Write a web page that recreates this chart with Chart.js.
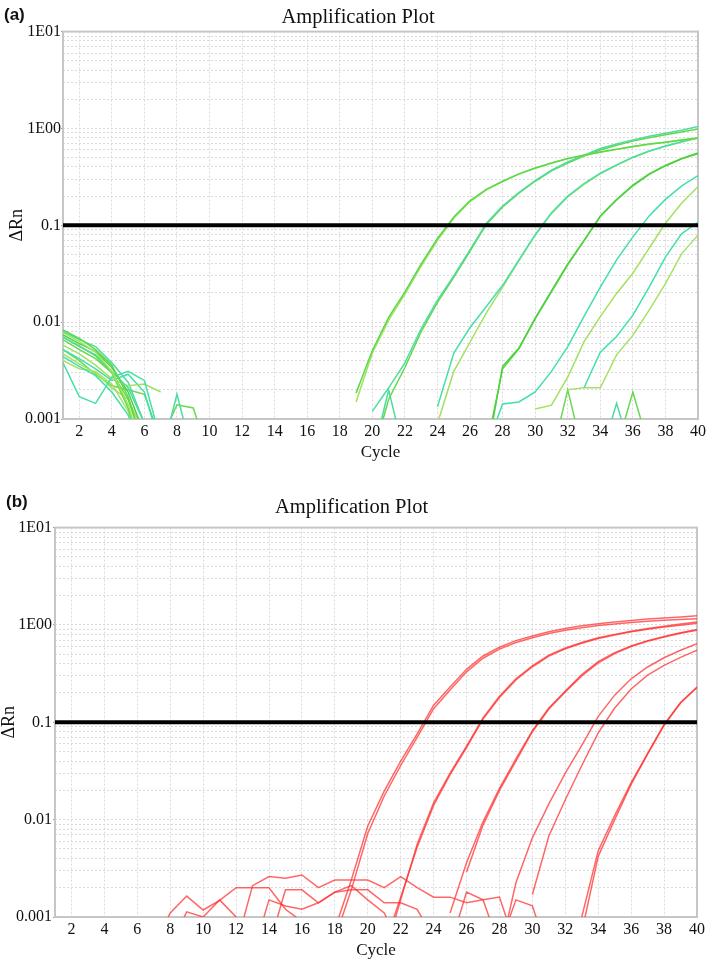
<!DOCTYPE html>
<html>
<head>
<meta charset="utf-8">
<script src="https://cdn.jsdelivr.net/npm/chart.js@4.4.1/dist/chart.umd.min.js"></script>
<style>
  html, body { margin: 0; padding: 0; background: #fff; }
  body { width: 709px; height: 963px; position: relative; overflow: hidden; }
  canvas { position: absolute; left: 0; }
  #chartA { top: 0; }
  #chartB { top: 480px; }
  .tag { position: absolute; font: bold 17px "Liberation Sans", Arial, sans-serif; line-height: 20px; color: #111; }
</style>
</head>
<body>
<canvas id="chartA" width="709" height="470"></canvas>
<canvas id="chartB" width="709" height="483"></canvas>
<div class="tag" style="left:4px; top:5px">(a)</div>
<div class="tag" style="left:6px; top:492px">(b)</div>
<script>
const cycles = [1, 2, 3, 4, 5, 6, 7, 8, 9, 10, 11, 12, 13, 14, 15, 16, 17, 18, 19, 20,
  21, 22, 23, 24, 25, 26, 27, 28, 29, 30, 31, 32, 33, 34, 35, 36, 37, 38, 39, 40];
const xTickValues = [2, 4, 6, 8, 10, 12, 14, 16, 18, 20, 22, 24, 26, 28, 30, 32, 34, 36, 38, 40];
const yGridValues = [0.001, 0.002, 0.003, 0.004, 0.005, 0.006, 0.007, 0.008, 0.009,
  0.01, 0.02, 0.03, 0.04, 0.05, 0.06, 0.07, 0.08, 0.09,
  0.1, 0.2, 0.3, 0.4, 0.5, 0.6, 0.7, 0.8, 0.9,
  1, 2, 3, 4, 5, 6, 7, 8, 9, 10];
const yMajorValues = [0.001, 0.01, 0.1, 1, 10];
const yMajorLabels = ['0.001', '0.01', '0.1', '1E00', '1E01'];
const threshold = 0.1;

// panel (a) - green wells, null = not plotted (negative dRn)
const greenA1 = [0.0083, 0.0068, 0.0052, 0.0036, 0.0017, 0.0005,
  null, null, null, null, null, null, null, null, null, null, null, null,
  0.00185, 0.0051, 0.0112, 0.0205, 0.040, 0.073, 0.122, 0.180, 0.235, 0.285, 0.340,
  0.390, 0.440, 0.490, 0.530, 0.570, 0.610, 0.650, 0.690, 0.720, 0.760, 0.790];
const greenA2 = [0.0078, 0.0063, 0.0049, 0.0031, 0.0014, 0.0004,
  null, null, null, null, null, null, null, null, null, null, null, null,
  0.0015, 0.0048, 0.0105, 0.0195, 0.038, 0.070, 0.118, 0.176, 0.232, 0.283, 0.338,
  0.388, 0.438, 0.488, 0.528, 0.568, 0.608, 0.648, 0.688, 0.722, 0.762, 0.800];
const greenB1 = [0.0070, 0.0056, 0.0046, 0.0031, 0.0021, 0.0009,
  null, null, null, null, null, null, null, null, null, null, null, null, null,
  0.0012, 0.0021, 0.0038, 0.0086, 0.0169, 0.030, 0.056, 0.105, 0.158, 0.218,
  0.290, 0.370, 0.450, 0.530, 0.620, 0.690, 0.760, 0.830, 0.890, 0.960, 1.050];
const greenB2 = [0.0066, 0.0052, 0.0042, 0.0030, 0.0016, 0.0005,
  null, null, null, null, null, null, null, null, null, null, null, null, null,
  0.0004, 0.0016, 0.0034, 0.0080, 0.0160, 0.029, 0.054, 0.102, 0.155, 0.215,
  0.285, 0.365, 0.440, 0.520, 0.600, 0.670, 0.740, 0.800, 0.860, 0.920, 0.990];
const greenC1 = [0.0038, 0.0017, 0.00145, 0.0027, 0.0031, 0.0025, 0.0006,
  null, null, null, null, null, null, null, null, null, null, null, null, null, null, null, null,
  0.00134, 0.0048, 0.0088, 0.0145, 0.024, 0.044,
  0.080, 0.135, 0.200, 0.270, 0.345, 0.420, 0.505, 0.585, 0.660, 0.730, 0.800];
const greenC2 = [0.0058, 0.0047, 0.0036, 0.0026, 0.0022, 0.0023, 0.0019,
  null, null, null, null, null, null, null, null, null, null, null, null, null, null, null, null,
  0.0009, 0.0031, 0.0062, 0.0125, 0.023, 0.043,
  0.079, 0.132, 0.196, 0.265, 0.340, 0.415, 0.500, 0.580, 0.655, 0.725, 0.795];
const greenD1 = [0.0074, 0.0060, 0.0050, 0.0034, 0.0019, 0.0007,
  null, null, null, null, null, null, null, null, null, null,
  null, null, null, null, null, null, null, null, null, null,
  0.0004, 0.0035, 0.0054,
  0.0110, 0.0210, 0.040, 0.070, 0.125, 0.185, 0.260, 0.340, 0.415, 0.490, 0.560];
const greenD2 = [0.0070, 0.0057, 0.0045, 0.0030, 0.0013, 0.0004,
  null, null, null, null, null, null, null, null, null, null,
  null, null, null, null, null, null, null, null, null, null,
  0.0005, 0.0033, 0.0053,
  0.0108, 0.0205, 0.039, 0.069, 0.123, 0.183, 0.256, 0.335, 0.410, 0.485, 0.550];
const greenE = [0.0052, 0.0042, 0.0033, 0.0025, 0.0029, 0.0019, 0.0005,
  null, null, null, null, null, null, null, null, null, null,
  null, null, null, null, null, null, null, null, null,
  0.0005, 0.00143, 0.0015,
  0.0019, 0.0031, 0.0056, 0.0115, 0.023, 0.044, 0.076, 0.125, 0.185, 0.255, 0.325];
const greenF = [0.0047, 0.0037, 0.0030, 0.0021, 0.0016, 0.0007,
  null, null, null, null, null, null, null, null, null, null, null, null,
  null, null, null, null, null, null, null, null, null, null, null,
  0.00127, 0.00139, 0.0027, 0.0063, 0.0114, 0.0198, 0.032, 0.058, 0.105, 0.170, 0.250];
const greenG = [0.0044, 0.0035, 0.0028, 0.0019, 0.0011, 0.0004,
  null, null, null, null, null, null, null, null, null, null, null, null, null,
  null, null, null, null, null, null, null, null, null, null, null, null, null,
  0.0021, 0.0049, 0.0071, 0.0118, 0.023, 0.047, 0.082, 0.107];
const greenH = [0.0040, 0.0033, 0.0031, 0.0023, 0.0012, 0.0004,
  null, null, null, null, null, null, null, null, null, null, null, null, null,
  null, null, null, null, null, null, null, null, null, null, null, null,
  0.0020, 0.0021, 0.0021, 0.0046, 0.0073, 0.0133, 0.025, 0.051, 0.079];
const greenNtc1 = [0.0080, 0.0066, 0.0056, 0.0038, 0.0024, 0.0009, 0.0004, 0.0018, 0.0004,
  null, null, null, null, null, null, null, null, null, null,
  0.0004, 0.0020, 0.0004,
  null, null, null, null, null, null, null, null, null, null, null,
  0.0004, 0.00145, 0.0004,
  null, null, null, null];
const greenNtc2 = [0.0052, 0.0040, 0.0029, 0.0022, 0.0020, 0.0018, 0.0006, 0.0014, 0.0013, 0.0004,
  null, null, null, null, null, null, null, null, null, null,
  null, null, null, null, null, null, null, null, null, null,
  0.0004, 0.0020, 0.0004,
  null,
  0.0005, 0.0019, 0.0005,
  null, null, null];

// panel (b) - red wells
const redR1 = [null, null, null, null, null, null, null, null, null, null,
  null, null, null, null, null, null, null,
  0.00075, 0.0024, 0.0086, 0.0196, 0.040, 0.076, 0.150, 0.230, 0.350, 0.480, 0.590, 0.690,
  0.770, 0.850, 0.920, 0.980, 1.030, 1.070, 1.110, 1.150, 1.180, 1.210, 1.240];
const redR2 = [null, null, null, null, null, null, null, null, null, null,
  null, null, null, null, null, null, null,
  0.0006, 0.0019, 0.0072, 0.0175, 0.036, 0.070, 0.138, 0.215, 0.330, 0.455, 0.565, 0.660,
  0.740, 0.815, 0.880, 0.935, 0.985, 1.025, 1.060, 1.090, 1.120, 1.140, 1.160];
const redR3a = [null, null, null, null, null, null, null, null, null, null,
  null, null, null, null, null, null, null, null, null, null,
  0.0004, 0.0015, 0.0056, 0.0149, 0.030, 0.057, 0.111, 0.185, 0.280,
  0.380, 0.490, 0.580, 0.660, 0.740, 0.800, 0.860, 0.920, 0.970, 1.020, 1.070];
const redR3b = [null, null, null, null, null, null, null, null, null, null,
  null, null, null, null, null, null, null, null, null, null,
  0.0005, 0.0016, 0.0052, 0.0140, 0.029, 0.055, 0.108, 0.180, 0.272,
  0.372, 0.478, 0.568, 0.648, 0.725, 0.790, 0.850, 0.905, 0.950, 0.995, 1.040];
const redR4 = [null, null, null, null, null, null, null, null, null, null,
  null, null, null, null, null, null, null, null, null, null, null, null, null, null,
  0.0011, 0.0036, 0.0095, 0.021, 0.042,
  0.082, 0.140, 0.210, 0.310, 0.420, 0.520, 0.610, 0.690, 0.760, 0.830, 0.900];
const redR5 = [null, null, null, null, null, null, null, null, null, null,
  null, null, null, null, null, null, null, null, null, null, null, null, null, null, null,
  0.0029, 0.0088, 0.020, 0.040,
  0.080, 0.137, 0.205, 0.300, 0.408, 0.508, 0.600, 0.680, 0.750, 0.820, 0.885];
const redR6 = [null, null, null, null, null, null, null, null, null, null,
  null, null, null, null, null, null, null, null, null, null,
  null, null, null, null, null, null, null,
  0.0004, 0.00225,
  0.0065, 0.0145, 0.030, 0.058, 0.115, 0.190, 0.280, 0.370, 0.460, 0.550, 0.640];
const redR7 = [null, null, null, null, null, null, null, null, null, null,
  null, null, null, null, null, null, null, null, null, null,
  null, null, null, null, null, null, null, null, null,
  0.0017, 0.0068, 0.016, 0.036, 0.078, 0.140, 0.220, 0.305, 0.385, 0.465, 0.550];
const redR8 = [null, null, null, null, null, null,
  0.0005, 0.0011, 0.00164, 0.00118, 0.00148, 0.0020, 0.0020, 0.0020, 0.0012, 0.0009, 0.0005,
  null, null, null, null, null, null, null, null, null, null, null, null, null, null, null,
  0.0010, 0.0048, 0.011, 0.024, 0.048, 0.095, 0.160, 0.230];
const redR9 = [null, null, null, null, null, null, null,
  0.0005, 0.00113, 0.0010, 0.0015, 0.0010, 0.0004,
  null, null, null, null, null, null, null, null, null, null, null, null, null, null, null, null, null, null,
  0.0004, 0.0007, 0.0042, 0.0100, 0.023, 0.047, 0.093, 0.158, 0.228];
const redNoise1 = [null, null, null, null, null, null, null, null, null, null, null,
  0.0005, 0.0021, 0.0026, 0.0025, 0.0027, 0.0020, 0.0024, 0.0024, 0.0024,
  0.0020, 0.0026, 0.0020, 0.0016, 0.0016, 0.0014, 0.0015, 0.0016, 0.0005,
  null, null, null, null, null, null, null, null, null, null, null];
const redNoise2 = [null, null, null, null, null, null, null, null, null, null, null, null, null,
  0.0005, 0.0019, 0.0019, 0.0014, 0.0018, 0.0019, 0.0019,
  0.0014, 0.0014, 0.0012, 0.0006, 0.0005, 0.0018, 0.0015, 0.0005, 0.0015, 0.0013, 0.0004,
  null, null, null, null, null, null, null, null, null];
const redNoise3 = [null, null, null, null, null, null, null, null, null, null, null, null,
  0.0004, 0.0015, 0.0013, 0.0012, 0.0014, 0.0018, 0.0021, 0.0015, 0.0011, 0.0005,
  null, null, null, null, null, null, null, null, null, null, null, null, null, null, null, null, null, null];

const greenLines = [greenA1, greenA2, greenB1, greenB2, greenC1, greenC2, greenD1, greenD2,
  greenE, greenF, greenG, greenH, greenNtc1, greenNtc2];
const greenColors = ['#5bd94b', '#9ee35c', '#4fdc9e', '#63d84a', '#46dfa9', '#a3e062', '#4fd03e', '#5ad447',
  '#40e0a8', '#a0e25e', '#3fe0ac', '#a8e066', '#48dca0', '#6ad850'];
const redLines = [redR1, redR2, redR3a, redR3b, redR4, redR5, redR6, redR7, redR8, redR9,
  redNoise1, redNoise2, redNoise3];
const redColor = 'rgba(255, 45, 45, 0.72)';

const SERIF = '"Liberation Serif", "Times New Roman", serif';
const INK = '#111';
const GRID = '#dadada';

const plotBox = {
  id: 'plotBox',
  beforeDatasetsDraw(chart) {
    const { ctx, chartArea: a } = chart;
    ctx.save();
    ctx.strokeStyle = '#c6c6c6';
    ctx.lineWidth = 2;
    ctx.strokeRect(a.left, a.top, a.right - a.left, a.bottom - a.top);
    ctx.restore();
  }
};

function makePanel(canvasId, lines, colors, cfg) {
  const datasets = [{
    data: [{ x: cycles[0], y: threshold }, { x: cycles[cycles.length - 1], y: threshold }],
    borderColor: '#000',
    borderWidth: 4,
    pointRadius: 0
  }];
  lines.forEach((values, i) => {
    datasets.push({
      data: cycles.map((c, k) => ({ x: c, y: values[k] })),
      borderColor: Array.isArray(colors) ? colors[i] : colors,
      borderWidth: 1.5,
      pointRadius: 0
    });
  });

  return new Chart(document.getElementById(canvasId), {
    type: 'line',
    data: { datasets },
    plugins: [plotBox],
    options: {
      responsive: false,
      animation: false,
      devicePixelRatio: 1,
      layout: { padding: cfg.padding },
      elements: { line: { tension: 0 } },
      plugins: {
        legend: { display: false },
        tooltip: { enabled: false },
        title: {
          display: true,
          text: 'Amplification Plot',
          color: INK,
          font: { family: SERIF, size: 20.5, weight: 'normal', lineHeight: 1.2 },
          padding: cfg.titlePadding
        }
      },
      scales: {
        x: {
          type: 'linear',
          min: 1,
          max: 40,
          afterBuildTicks: (s) => { s.ticks = xTickValues.map(v => ({ value: v })); },
          afterFit: (s) => { s.height = 45; },
          ticks: {
            autoSkip: false,
            maxRotation: 0,
            padding: 3,
            color: INK,
            font: { family: SERIF, size: 16 },
            callback: (v) => String(v)
          },
          grid: { color: GRID, lineWidth: 1, drawTicks: false },
          border: { display: false, dash: [2, 2] },
          title: {
            display: true,
            text: 'Cycle',
            color: INK,
            font: { family: SERIF, size: 17 },
            padding: { top: 0, bottom: 1.5 }
          }
        },
        y: {
          type: 'logarithmic',
          min: 0.001,
          max: 10,
          afterBuildTicks: (s) => { s.ticks = yGridValues.map(v => ({ value: v })); },
          afterFit: (s) => { s.width = cfg.yWidth; },
          ticks: {
            autoSkip: false,
            padding: cfg.yTickPad,
            color: INK,
            font: { family: SERIF, size: 16 },
            callback: (v) => {
              const i = yMajorValues.indexOf(v);
              return i >= 0 ? yMajorLabels[i] : '';
            }
          },
          grid: {
            color: GRID,
            lineWidth: 1,
            tickLength: 2,
            tickColor: (ctx) => (ctx.tick && yMajorValues.includes(ctx.tick.value)) ? '#9a9a9a' : 'rgba(0,0,0,0)'
          },
          border: { display: false, dash: [2, 2] },
          title: {
            display: true,
            text: 'ΔRn',
            color: INK,
            font: { family: SERIF, size: 18 },
            padding: { top: cfg.yTitlePad, bottom: 0 }
          }
        }
      }
    }
  });
}

makePanel('chartA', greenLines, greenColors, {
  padding: { left: 17, right: 10, top: 0, bottom: 6 },
  titlePadding: { top: 5, bottom: 2 },
  yWidth: 46,
  yTickPad: 0,
  yTitlePad: -10.3
});

makePanel('chartB', redLines, redColor, {
  padding: { left: 6, right: 12, top: 0, bottom: 1 },
  titlePadding: { top: 15, bottom: 8 },
  yWidth: 49,
  yTickPad: 1,
  yTitlePad: -7.6
});
</script>
</body>
</html>
